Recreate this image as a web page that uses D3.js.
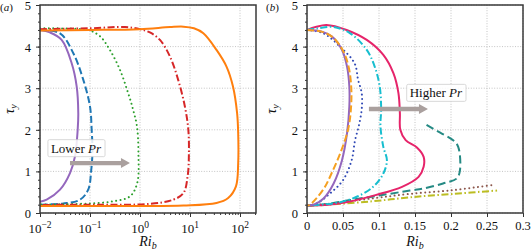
<!DOCTYPE html>
<html>
<head>
<meta charset="utf-8">
<script src="https://cdn.jsdelivr.net/npm/d3@7"></script>
<style>
body { margin: 0; background: #fff; }
svg { display: block; }
</style>
</head>
<body>
<script>
// panel (a): [Ri_b, tau_y]
const aPurple = [[0.01,4.40],[0.0158,4.34],[0.0271,4.16],[0.043,3.60],[0.0542,3.04],[0.0583,2.40],[0.0567,2.0],[0.0501,1.36],[0.0398,0.96],[0.0251,0.56],[0.0136,0.32],[0.01,0.27]];
const aBlue = [[0.01,4.40],[0.0251,4.32],[0.0464,3.84],[0.0735,3.20],[0.1,2.56],[0.108,2.0],[0.112,1.5],[0.106,1.04],[0.092,0.56],[0.063,0.32],[0.0292,0.23],[0.01,0.20]];
const aGreen = [[0.01,4.44],[0.05,4.43],[0.093,4.40],[0.158,4.25],[0.25,3.92],[0.398,3.44],[0.58,2.88],[0.73,2.48],[0.87,2.08],[0.93,1.44],[0.88,0.72],[0.63,0.40],[0.29,0.28],[0.1,0.23],[0.029,0.21],[0.01,0.205]];
const aRed = [[0.01,4.42],[0.1,4.44],[0.5,4.47],[1.0,4.42],[1.58,4.34],[2.51,4.16],[3.98,3.76],[5.8,3.20],[7.9,2.56],[9.26,2.0],[9.5,1.4],[9.0,0.9],[7.4,0.48],[4.64,0.32],[1.58,0.22],[0.158,0.20],[0.01,0.195]];
const aOrange = [[0.01,4.39],[0.1,4.40],[1,4.42],[4,4.47],[7.4,4.48],[12,4.44],[18.5,4.32],[33.9,3.92],[53.7,3.52],[72.4,3.04],[87.5,2.40],[92,1.92],[92,1.20],[83,0.64],[58,0.36],[33.9,0.24],[7.4,0.18],[0.73,0.17],[0.01,0.17]];

// panel (b)
const bPurple = [[0,4.40],[0.0208,4.36],[0.0347,4.24],[0.0486,3.92],[0.0556,3.52],[0.0588,3.04],[0.0588,2.56],[0.0556,1.92],[0.0486,1.27],[0.037,0.71],[0.023,0.35],[0.0093,0.20],[0,0.18]];
const bOrange = [[0,4.40],[0.02,4.36],[0.036,4.22],[0.05,3.90],[0.058,3.50],[0.0615,3.0],[0.061,2.5],[0.057,2.0],[0.046,1.43],[0.034,0.95],[0.025,0.63],[0.013,0.35],[0.004,0.2],[0,0.18]];
const bBlue = [[0,4.40],[0.0227,4.32],[0.0458,4.0],[0.066,3.6],[0.071,3.2],[0.076,2.88],[0.076,2.5],[0.072,2.1],[0.0667,1.75],[0.062,1.27],[0.050,0.79],[0.032,0.47],[0.0134,0.23],[0,0.18]];
const bCyan = [[0,4.40],[0.015,4.44],[0.0366,4.47],[0.06,4.32],[0.083,3.92],[0.094,3.52],[0.101,3.04],[0.103,2.48],[0.102,2.1],[0.106,1.59],[0.111,1.27],[0.106,0.95],[0.092,0.63],[0.069,0.39],[0.046,0.26],[0.02,0.20],[0,0.18]];
const bPink = [[0,4.40],[0.012,4.47],[0.027,4.52],[0.055,4.40],[0.083,4.16],[0.106,3.80],[0.12,3.36],[0.127,2.88],[0.129,2.40],[0.1296,2.0],[0.137,1.75],[0.153,1.57],[0.162,1.35],[0.162,1.11],[0.155,0.87],[0.132,0.63],[0.095,0.43],[0.058,0.27],[0.030,0.20],[0,0.18]];
const bTeal = [[0.166,2.12],[0.185,1.93],[0.203,1.75],[0.21,1.59],[0.2125,1.03],[0.208,0.83],[0.189,0.71],[0.162,0.59],[0.143,0.54],[0.1,0.42],[0.06,0.31],[0.025,0.21],[0,0.18]];
const bBrown = [[0,0.18],[0.03,0.22],[0.09,0.35],[0.143,0.46],[0.203,0.55],[0.2565,0.67]];
const bOlive = [[0,0.17],[0.03,0.20],[0.09,0.28],[0.143,0.377],[0.203,0.46],[0.264,0.54]];

// ticks
const yTicks = [0, 1, 2, 3, 4, 5];
const aXTicks = [1e-2, 1e-1, 1e0, 1e1, 1e2];
const aXExp = ['−2', '−1', '0', '1', '2'];
const bXTicks = [0, 0.05, 0.1, 0.15, 0.2, 0.25, 0.3];
const bXLabels = ['0', '0.05', '0.1', '0.15', '0.2', '0.25', '0.3'];

const svg = d3.select('body').append('svg').attr('width', 532).attr('height', 250);

const yScale = d3.scaleLinear().domain([0, 5]).range([213, 5]);
const xA = d3.scaleLog().domain([0.01, Math.pow(10, 2.32)]).range([40, 256]);
const xB = d3.scaleLinear().domain([0, 0.3]).range([307, 523]);

const yMinor = d3.range(0, 5.001, 0.2);
const aXMinor = [];
for (let e = -2; e <= 2; e++) for (let k = 2; k <= 9; k++) {
    const v = k * Math.pow(10, e);
    if (v < xA.domain()[1]) aXMinor.push(v);
}

function panel(x, xTicks, xMinor, id) {
    const g = svg.append('g');
    const [x0, x1] = x.range();

    g.append('clipPath').attr('id', 'clip' + id)
        .append('rect').attr('x', x0).attr('y', 5).attr('width', x1 - x0).attr('height', 208);

    // dotted grid
    const grid = g.append('g').attr('stroke', '#b5b5b5').attr('stroke-width', 0.8).attr('stroke-dasharray', '1,1.6');
    grid.selectAll('.gx').data(xTicks).join('line').classed('gx', true)
        .attr('x1', d => x(d)).attr('x2', d => x(d)).attr('y1', 5).attr('y2', 213);
    grid.selectAll('.gy').data(yTicks).join('line').classed('gy', true)
        .attr('x1', x0).attr('x2', x1).attr('y1', d => yScale(d)).attr('y2', d => yScale(d));

    const styleAxis = s => {
        s.select('.domain').remove();
        s.selectAll('line').attr('stroke', '#333').attr('stroke-width', 1);
        s.attr('font-size', 12.5);
        s.selectAll('text').attr('fill', '#111');
    };

    g.append('g').attr('transform', 'translate(0,213)')
        .call(d3.axisBottom(x).tickValues(xMinor).tickSize(2).tickFormat(''))
        .call(styleAxis);
    g.append('g').attr('transform', 'translate(0,213)')
        .call(d3.axisBottom(x).tickValues(xTicks).tickSize(4).tickFormat(''))
        .call(styleAxis);
    g.append('g').attr('transform', `translate(${x0},0)`)
        .call(d3.axisLeft(yScale).tickValues(yMinor).tickSize(2).tickFormat(''))
        .call(styleAxis);
    g.append('g').attr('transform', `translate(${x0},0)`)
        .call(d3.axisLeft(yScale).tickValues(yTicks).tickSize(4).tickPadding(5).tickFormat(d3.format('d')))
        .call(styleAxis)
        .call(s => s.selectAll('text').attr('dy', '0.36em'));

    return g;
}

const gA = panel(xA, aXTicks, aXMinor, 'a');
const gB = panel(xB, bXTicks, [], 'b');

// x tick labels
gA.append('g').selectAll('text').data(aXTicks).join('text')
    .attr('x', d => xA(d)).attr('y', 233).attr('text-anchor', 'middle').attr('font-size', 13).attr('fill', '#111')
    .each(function (d, i) {
        const t = d3.select(this);
        t.append('tspan').text('10');
        t.append('tspan').attr('dy', -5).attr('font-size', 9.5).text(aXExp[i]);
    });
gB.append('g').selectAll('text').data(bXTicks).join('text')
    .attr('x', d => xB(d)).attr('y', 230).attr('text-anchor', 'middle').attr('font-size', 12.5).attr('fill', '#111')
    .text((d, i) => bXLabels[i]);

function drawCurve(g, x, data, color, dash, id) {
    const line = d3.line().x(d => x(d[0])).y(d => yScale(d[1])).curve(d3.curveCatmullRom.alpha(0.5));
    g.append('path').datum(data)
        .attr('clip-path', `url(#clip${id})`)
        .attr('d', line)
        .attr('fill', 'none')
        .attr('stroke', color)
        .attr('stroke-width', 2)
        .attr('stroke-linecap', dash === 'dot' ? 'round' : 'butt')
        .attr('stroke-dasharray', dash === 'dot' ? '0.01,4.4' : dash);
}

drawCurve(gA, xA, aPurple, '#9467bd', null, 'a');
drawCurve(gA, xA, aBlue, '#1f77b4', '7,3', 'a');
drawCurve(gA, xA, aGreen, '#2ca02c', 'dot', 'a');
drawCurve(gA, xA, aRed, '#d62728', '7,2.5,1.5,2.5', 'a');
drawCurve(gA, xA, aOrange, '#ff7f0e', null, 'a');

drawCurve(gB, xB, bOlive, '#bcbd22', '7,2.5,1.5,2.5', 'b');
drawCurve(gB, xB, bBrown, '#8c564b', 'dot', 'b');
drawCurve(gB, xB, bTeal, '#258a84', '8,4', 'b');
drawCurve(gB, xB, bPink, '#e6246a', null, 'b');
drawCurve(gB, xB, bCyan, '#17becf', '7,2.5,1.5,2.5', 'b');
drawCurve(gB, xB, bBlue, '#2f48b5', 'dot', 'b');
drawCurve(gB, xB, bPurple, '#9467bd', null, 'b');
drawCurve(gB, xB, bOrange, '#f5a021', '7,3', 'b');

// text boxes and arrows
function note(g, cx, cy, word) {
    const t = g.append('text').attr('x', cx).attr('y', cy).attr('text-anchor', 'middle')
        .attr('font-size', 13).attr('fill', '#111')
        .style('font-family', "'Liberation Serif'");
    t.append('tspan').text(word + ' ');
    t.append('tspan').attr('font-style', 'italic').text('Pr');
    const b = t.node().getBBox();
    g.insert('rect', function () { return t.node(); })
        .attr('x', b.x - 3).attr('y', b.y - 1).attr('width', b.width + 6).attr('height', b.height + 2)
        .attr('rx', 1.5).attr('fill', 'white').attr('fill-opacity', 0.85)
        .attr('stroke', '#cfcfcf').attr('stroke-width', 0.8);
}
function arrow(g, xa, xb, y) {
    const hw = 2.2, hh = 5, hl = 9;
    const p = d3.path();
    p.moveTo(xa, y - hw); p.lineTo(xb - hl, y - hw); p.lineTo(xb - hl, y - hh); p.lineTo(xb, y);
    p.lineTo(xb - hl, y + hh); p.lineTo(xb - hl, y + hw); p.lineTo(xa, y + hw); p.closePath();
    g.append('path').attr('d', p.toString()).attr('fill', '#aaa09e');
}

note(gA, xA(0.0525), yScale(1.45), 'Lower');
arrow(gA, xA(0.0398), xA(0.63), yScale(1.2));
note(gB, xB(0.179), yScale(2.78), 'Higher');
arrow(gB, xB(0.086), xB(0.168), yScale(2.5));

// frames
[[xA, gA], [xB, gB]].forEach(([x, g]) => {
    const [x0, x1] = x.range();
    g.append('rect').attr('x', x0).attr('y', 5).attr('width', x1 - x0).attr('height', 208)
        .attr('fill', 'none').attr('stroke', '#3a3a3a').attr('stroke-width', 1.5);
});

// axis titles and panel letters
[[xA, gA, 13.5, 'a', 0], [xB, gB, 276, 'b', 266]].forEach(([x, g, yl, letter, lx]) => {
    const [x0, x1] = x.range();
    const xt = g.append('text').attr('x', (x0 + x1) / 2).attr('y', 246).attr('text-anchor', 'middle')
        .attr('font-size', 14).attr('font-style', 'italic').attr('fill', '#111');
    xt.append('tspan').text('Ri');
    xt.append('tspan').attr('dy', 3).attr('font-size', 10).text('b');

    const yt = g.append('text').attr('transform', `translate(${yl},109) rotate(-90)`).attr('text-anchor', 'middle')
        .attr('font-size', 14).attr('font-style', 'italic').attr('fill', '#111');
    yt.append('tspan').text('τ');
    yt.append('tspan').attr('dy', 3).attr('font-size', 10).text('y');

    const pl = g.append('text').attr('x', lx).attr('y', 11).attr('font-size', 11).attr('fill', '#111');
    pl.append('tspan').text('(');
    pl.append('tspan').attr('font-style', 'italic').text(letter);
    pl.append('tspan').text(')');
});

// serif everywhere, inline so nothing overrides it
svg.selectAll('text').style('font-family', "'Liberation Serif'");
</script>
</body>
</html>
